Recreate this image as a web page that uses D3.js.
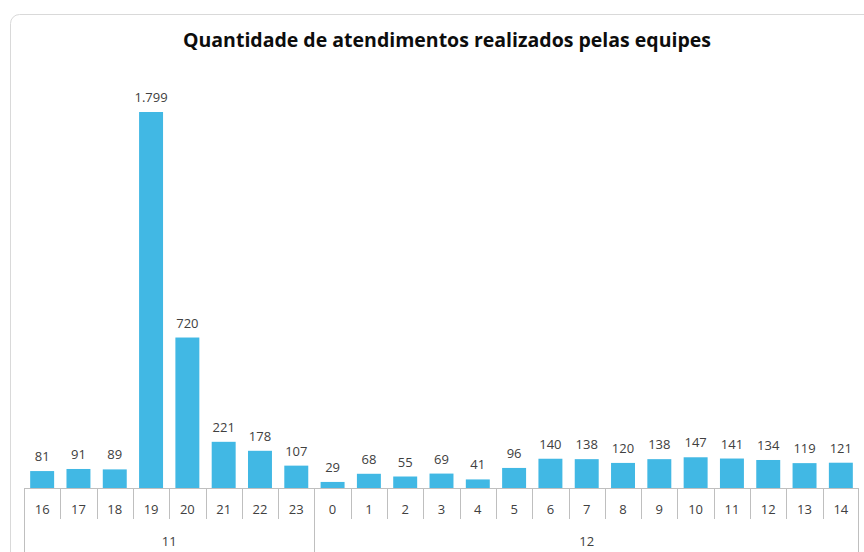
<!DOCTYPE html>
<meta charset="utf-8">
<script src="https://cdn.jsdelivr.net/npm/d3@7"></script>
<style>
  body { margin: 0; background: #fff; }
  text { font-family: "Open Sans", sans-serif; fill: #404040; }
</style>
<svg></svg>
<script>
// hours and the day they belong to
var hours  = ["16","17","18","19","20","21","22","23","0","1","2","3","4","5","6","7","8","9","10","11","12","13","14"];
var days   = ["11","11","11","11","11","11","11","11","12","12","12","12","12","12","12","12","12","12","12","12","12","12","12"];
var values = [81, 91, 89, 1799, 720, 221, 178, 107, 29, 68, 55, 69, 41, 96, 140, 138, 120, 138, 147, 141, 134, 119, 121];
var groups = ["11", "12"];

var W = 864, H = 552;
var svg = d3.select("svg").attr("width", W).attr("height", H);

// chart frame (runs off the page on the right and bottom)
svg.append("rect")
   .attr("x", 10.5).attr("y", 14.5)
   .attr("width", 900).attr("height", 600)
   .attr("rx", 9)
   .attr("fill", "#fff")
   .attr("stroke", "#d9d9d9");

svg.append("text")
   .attr("x", 447).attr("y", 47)
   .attr("text-anchor", "middle")
   .style("font-size", "19.5px")
   .style("font-weight", "bold")
   .style("fill", "#0d0d0d")
   .text("Quantidade de atendimentos realizados pelas equipes");

var keys = hours.map(function(h, i){ return i; });

var x = d3.scaleBand()
          .domain(keys)
          .range([24, 859])
          .paddingInner(0.34)
          .paddingOuter(0.17);

var y = d3.scaleLinear()
          .domain([0, 2000])
          .range([488, 70]);

var g = svg.append("g");

g.selectAll("rect.bar")
 .data(values)
 .enter().append("rect")
 .attr("class", "bar")
 .attr("x", function(d, i){ return x(i); })
 .attr("y", function(d){ return y(d); })
 .attr("width", x.bandwidth())
 .attr("height", function(d){ return y(0) - y(d); })
 .attr("fill", "#41b8e4");

g.selectAll("text.val")
 .data(values)
 .enter().append("text")
 .attr("class", "val")
 .attr("x", function(d, i){ return x(i) + x.bandwidth() / 2; })
 .attr("y", function(d){ return y(d) - 10; })
 .attr("text-anchor", "middle")
 .style("font-size", "13px")
 .text(function(d){ return d3.format(",")(d).replace(/,/g, "."); });

// axis line
var step = x.step();
var left = x.range()[0], right = x.range()[1];
var edge = function(i){ return x(i) - x.paddingInner() * step / 2; };

var ax = svg.append("g").attr("stroke", "#bfbfbf").attr("stroke-width", 1);
ax.append("line")
  .attr("x1", left).attr("x2", right)
  .attr("y1", y(0) + 0.5).attr("y2", y(0) + 0.5);

// hour separators
var seps = d3.range(1, hours.length).filter(function(i){ return days[i] === days[i - 1]; });
ax.selectAll("line.tick")
  .data(seps)
  .enter().append("line")
  .attr("class", "tick")
  .attr("x1", function(i){ return Math.round(edge(i)) + 0.5; })
  .attr("x2", function(i){ return Math.round(edge(i)) + 0.5; })
  .attr("y1", y(0)).attr("y2", y(0) + 31);

// day separators (full height)
var daySeps = [0].concat(d3.range(1, hours.length).filter(function(i){ return days[i] !== days[i - 1]; }));
ax.selectAll("line.day")
  .data(daySeps)
  .enter().append("line")
  .attr("class", "day")
  .attr("x1", function(i){ return Math.round(i === 0 ? left : edge(i)) + 0.5; })
  .attr("x2", function(i){ return Math.round(i === 0 ? left : edge(i)) + 0.5; })
  .attr("y1", y(0)).attr("y2", H);
ax.append("line")
  .attr("x1", Math.round(right) - 0.5).attr("x2", Math.round(right) - 0.5)
  .attr("y1", y(0)).attr("y2", H);

svg.selectAll("text.hour")
   .data(hours)
   .enter().append("text")
   .attr("class", "hour")
   .attr("x", function(d, i){ return x(i) + x.bandwidth() / 2; })
   .attr("y", y(0) + 26)
   .attr("text-anchor", "middle")
   .style("font-size", "13px")
   .text(function(d){ return d; });

svg.selectAll("text.grp")
   .data(groups)
   .enter().append("text")
   .attr("class", "grp")
   .attr("x", function(gname){
     var idx = keys.filter(function(i){ return days[i] === gname; });
     var a = idx[0] === 0 ? left : edge(idx[0]);
     var b = idx[idx.length - 1] === hours.length - 1 ? right : edge(idx[idx.length - 1]) + step;
     return (a + b) / 2;
   })
   .attr("y", y(0) + 58)
   .attr("text-anchor", "middle")
   .style("font-size", "13px")
   .text(function(d){ return d; });
</script>
